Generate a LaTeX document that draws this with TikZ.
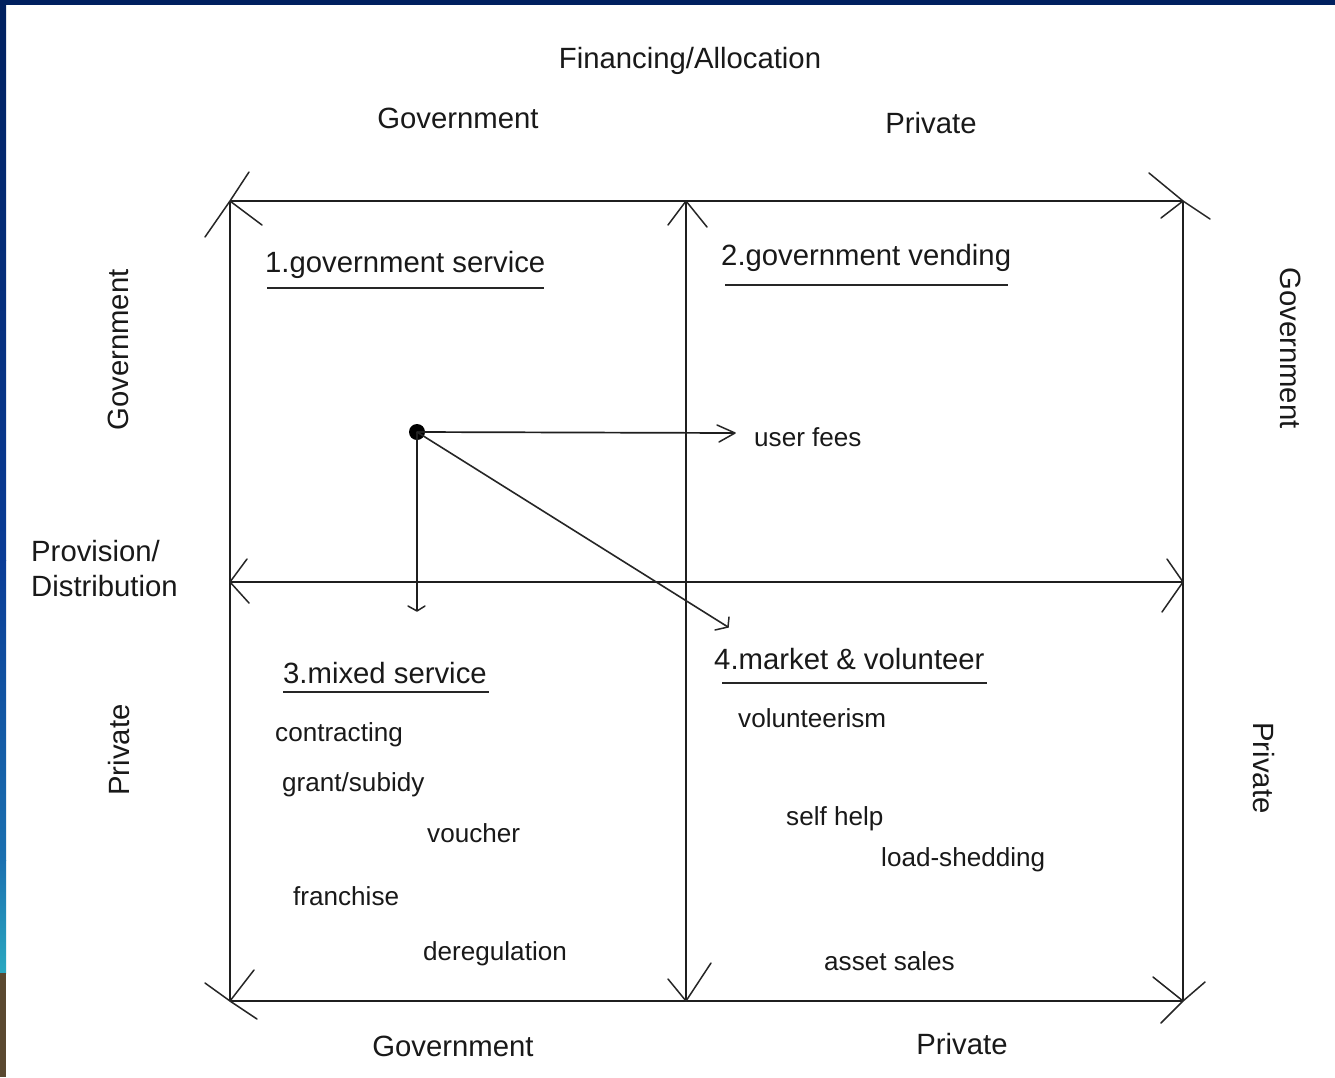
\documentclass[tikz,border=0pt]{standalone}
\usepackage{fontspec}
\setmainfont{Liberation Sans}
\definecolor{slidenavy}{HTML}{00205F}
\definecolor{slideblue}{HTML}{0A3C96}
\definecolor{slidesky}{HTML}{1A70B0}
\definecolor{slideteal}{HTML}{2AA8C0}
\definecolor{slidebrown}{HTML}{5A4830}
\begin{document}
\begin{tikzpicture}[x=1pt,y=-1pt,
  frame/.style={draw=black!88, line width=2.4pt},
  barb/.style={draw=black!85, line width=1.5pt, line cap=round},
  thin/.style={draw=black!88, line width=1.7pt},
  uline/.style={draw=black!85, line width=1.6pt},
  head/.style={font=\fontsize{29.3}{33}\selectfont, text=black!90, inner sep=0pt},
  item/.style={font=\fontsize{26.1}{30}\selectfont, text=black!90, inner sep=0pt, anchor=west},
]
% page and slide edge
\useasboundingbox (0,0) rectangle (1335,1077);
\fill[white] (0,0) rectangle (1335,1077);
\fill[top color=slidenavy, bottom color=slideblue] (0,0) rectangle (6,560);
\fill[top color=slideblue, bottom color=slidesky] (0,560) rectangle (6,860);
\fill[top color=slidesky, bottom color=slideteal] (0,860) rectangle (6,973);
\fill[slidebrown] (0,973) rectangle (6,1077);
\fill[slidenavy] (0,0) rectangle (1335,5);

% grid points
\coordinate (TL) at (230,201);
\coordinate (TM) at (686,201);
\coordinate (TR) at (1183,201);
\coordinate (LM) at (230,582);
\coordinate (RM) at (1183,582);
\coordinate (BL) at (230,1001);
\coordinate (BM) at (686,1001);
\coordinate (BR) at (1183,1001);

% outer frame and cross
\draw[frame] (TL) -- (TR);
\draw[frame] (BL) -- (BR);
\draw[frame] (TL) -- (BL);
\draw[frame] (TR) -- (BR);
\draw[frame] (TM) -- (BM);
\draw[frame] (LM) -- (RM);

% hand drawn arrow barbs at the ends of the axes
\draw[barb] (TL) -- ++(19,-29) (TL) -- ++(-25,36) (TL) -- ++(32,24);
\draw[barb] (TR) -- ++(-34,-28) (TR) -- ++(27,18) (TR) -- ++(-22,17);
\draw[barb] (BL) -- ++(24,-31) (BL) -- ++(-25,-18) (BL) -- ++(27,18);
\draw[barb] (BR) -- ++(-30,-24) (BR) -- ++(22,-19) (BR) -- ++(-22,22);
\draw[barb] (TM) -- ++(-18,24) (TM) -- ++(21,26);
\draw[barb] (BM) -- ++(-18,-22) (BM) -- ++(25,-38);
\draw[barb] (LM) -- ++(17,-23) (LM) -- ++(19,21);
\draw[barb] (RM) -- ++(-16,-23) (RM) -- ++(-21,30);

% arrows from the government service point
\node[circle, fill=black, inner sep=0pt, minimum size=16pt] (dot) at (417,432) {};
\coordinate (fees) at (735,433);
\coordinate (mixed) at (417,611);
\coordinate (market) at (728,627);
\draw[thin] (dot.center) -- (fees);
\draw[barb] (fees) -- ++(-18,-8) (fees) -- ++(-16,9);
\draw[thin] (dot.center) -- (mixed);
\draw[barb] (mixed) -- ++(-9,-5) (mixed) -- ++(8,-5);
\draw[barb, line width=1.6pt] (dot.center) -- (market);
\draw[barb] (market) -- ++(-13,3) (market) -- ++(1,-10);

% axis captions
\node[head] (fin) at (690,61) {Financing/Allocation};
\node[head] (topgov) at (458,118) {Government};
\node[head] (toppriv) at (931,123) {Private};
\node[head] (botgov) at (453,1046) {Government};
\node[head] (botpriv) at (962,1044) {Private};
\node[head, rotate=90] (leftgov) at (118,350) {Government};
\node[head, rotate=90] (leftpriv) at (119,750) {Private};
\node[head, rotate=-90] (rightgov) at (1291,348) {Government};
\node[head, rotate=-90] (rightpriv) at (1264,768) {Private};
\node[head, anchor=west, align=left] (prov) at (31,569) {Provision/\\[2pt]Distribution};

% quadrant titles
\node[head, anchor=west] (q1) at (265,265) {1.government service};
\draw[uline] (267,288) -- (544,288);
\node[head, anchor=west] (q2) at (721,258) {2.government vending};
\draw[uline] (725,285) -- (1008,285);
\node[head, anchor=west] (q3) at (283,673) {3.mixed service};
\draw[uline] (283,692) -- (489,692);
\node[head, anchor=west] (q4) at (714,659) {4.market \& volunteer};
\draw[uline] (722,683) -- (987,683);

% instruments
\node[item] (userfees) at (754,437) {user fees};
\node[item] (contr) at (275,735) {contracting};
\node[item] (grant) at (282,785) {grant/subidy};
\node[item] (vouch) at (427,833) {voucher};
\node[item] (franch) at (293,896) {franchise};
\node[item] (dereg) at (423,954) {deregulation};
\node[item] (volun) at (738,718) {volunteerism};
\node[item] (selfh) at (786,819) {self help};
\node[item] (loads) at (881,860) {load-shedding};
\node[item] (assets) at (824,961) {asset sales};
\end{tikzpicture}
\end{document}
